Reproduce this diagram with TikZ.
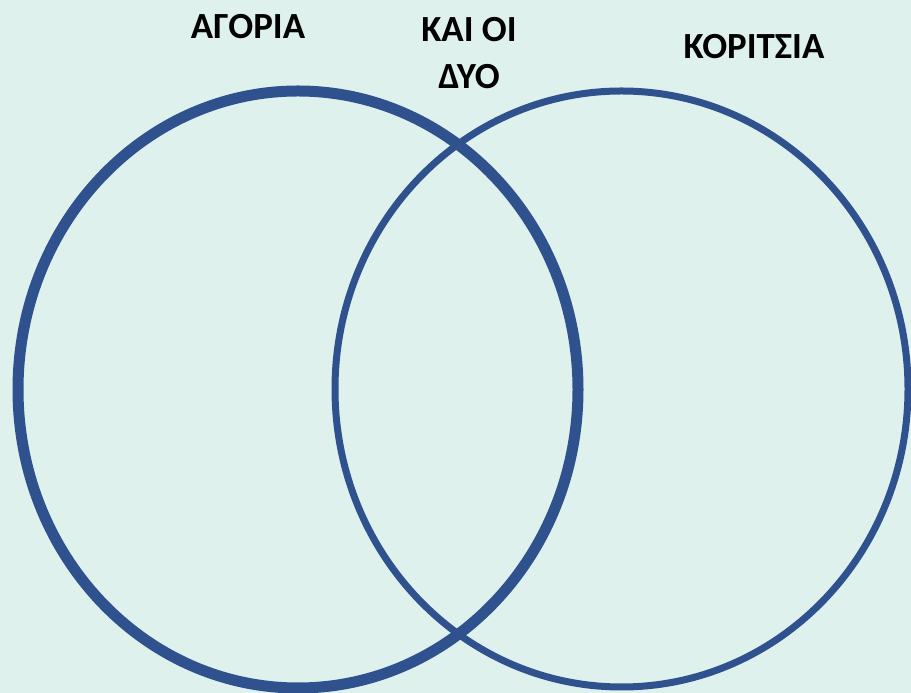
\documentclass[tikz,border=0pt]{standalone}
\usepackage{fontspec}
\setmainfont{Carlito}
\usepackage{xcolor}
\definecolor{mybg}{RGB}{222,241,236}
\definecolor{myblue}{RGB}{47,82,143}

\begin{document}
\begin{tikzpicture}[x=1bp,y=1bp,
  set/.style={draw=myblue},
  lbl/.style={font=\fontsize{37}{47}\selectfont\bfseries,text=black,align=center,inner sep=0pt}]
\fill[mybg] (0,0) rectangle (911,693);
\useasboundingbox (0,0) rectangle (911,693);
% the two sets
\draw[set,line width=11bp] (298,303.5) ellipse [x radius=280,y radius=298.5];
\draw[set,line width=7bp] (621.5,304) ellipse [x radius=286.5,y radius=298];
% labels
\node[lbl] (boys) at (248,666) {ΑΓΟΡΙΑ};
\node[lbl] (both) at (469,640) {ΚΑΙ ΟΙ\\ΔΥΟ};
\node[lbl] (girls) at (754,646) {ΚΟΡΙΤΣΙΑ};
\end{tikzpicture}
\end{document}
